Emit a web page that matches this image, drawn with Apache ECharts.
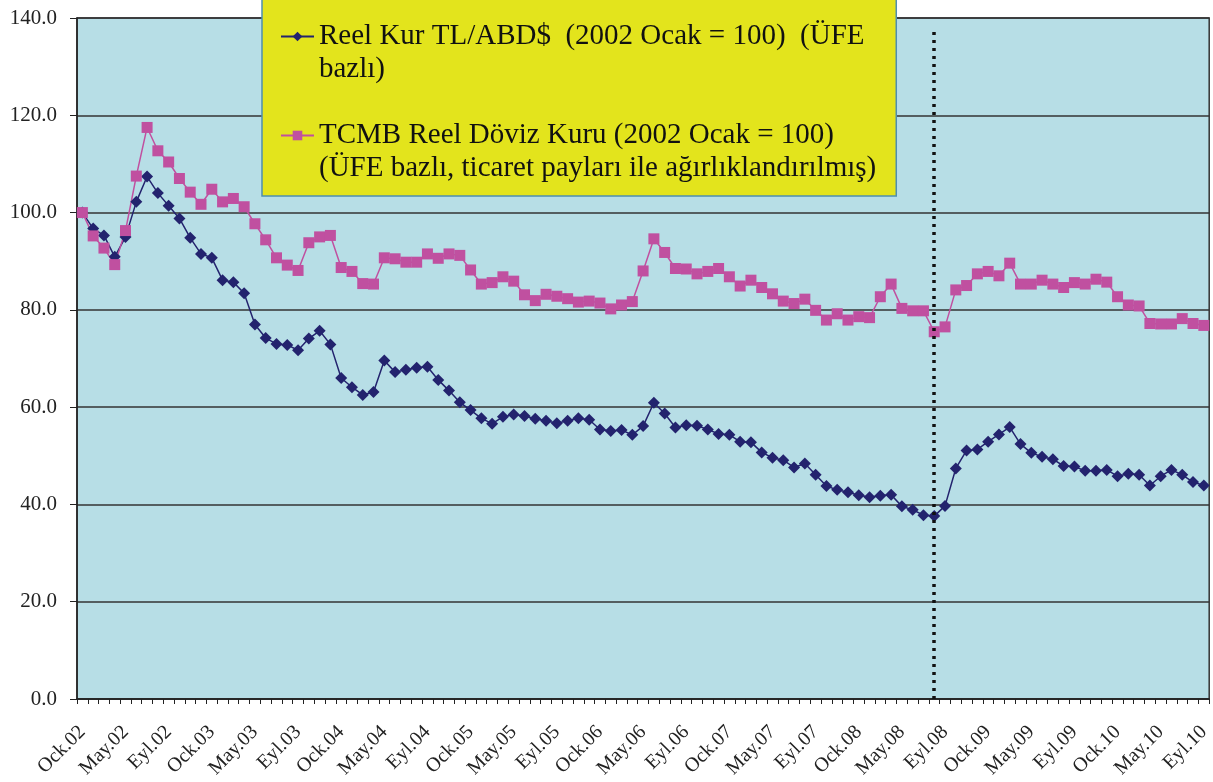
<!DOCTYPE html>
<html>
<head>
<meta charset="utf-8">
<script src="https://cdn.jsdelivr.net/npm/echarts@6/dist/echarts.min.js"></script>
<style>
  html, body { margin: 0; padding: 0; background: #fff; }
  #chart { width: 1213px; height: 782px; }
</style>
</head>
<body>
<div id="chart"></div>
<script>
// month labels, Ocak 2002 .. Eylül 2010
var monthNames = ['Ock', 'Şub', 'Mar', 'Nis', 'May', 'Haz', 'Tem', 'Ağu', 'Eyl', 'Eki', 'Kas', 'Ara'];
var years = ['02', '03', '04', '05', '06', '07', '08', '09', '10'];
var categories = [];
years.forEach(function (y) {
  monthNames.forEach(function (m) {
    if (categories.length < 105) categories.push(m + '.' + y);
  });
});

var yTicks = [0, 20, 40, 60, 80, 100, 120, 140];

var nameUsd = 'Reel Kur TL/ABD$  (2002 Ocak = 100)  (ÜFE bazlı)';
var nameTcmb = 'TCMB Reel Döviz Kuru (2002 Ocak = 100) (ÜFE bazlı, ticaret payları ile ağırlıklandırılmış)';

// Reel Kur TL/ABD$
var usdValues = [
  100.0, 96.7, 95.3, 90.9, 95.0, 102.2, 107.4, 104.0, 101.4, 98.8,
  94.8, 91.5, 90.7, 86.1, 85.7, 83.4, 77.0, 74.2, 73.0, 72.8,
  71.7, 74.1, 75.7, 72.9, 66.0, 64.1, 62.5, 63.1, 69.6, 67.2,
  67.7, 68.1, 68.3, 65.6, 63.4, 61.0, 59.4, 57.7, 56.6, 58.0,
  58.5, 58.2, 57.6, 57.2, 56.7, 57.2, 57.7, 57.4, 55.4, 55.1,
  55.3, 54.3, 56.1, 60.9, 58.7, 55.8, 56.3, 56.2, 55.4, 54.5,
  54.3, 52.9, 52.8, 50.7, 49.6, 49.1, 47.6, 48.4, 46.1, 43.8,
  43.0, 42.5, 41.9, 41.5, 41.8, 42.0, 39.6, 38.9, 37.8, 37.6,
  39.7, 47.4, 51.1, 51.3, 52.9, 54.4, 55.9, 52.4, 50.6, 49.8,
  49.3, 47.9, 47.8, 46.9, 46.9, 47.1, 45.8, 46.3, 46.1, 43.9,
  45.8, 47.1, 46.1, 44.6, 43.9
];

// TCMB Reel Döviz Kuru
var tcmbValues = [
  100.0, 95.2, 92.7, 89.3, 96.3, 107.5, 117.5, 112.7, 110.4, 107.0,
  104.2, 101.7, 104.8, 102.2, 102.9, 101.2, 97.7, 94.4, 90.7, 89.2,
  88.1, 93.8, 95.0, 95.3, 88.7, 87.9, 85.4, 85.3, 90.7, 90.5,
  89.8, 89.8, 91.5, 90.6, 91.5, 91.2, 88.2, 85.3, 85.6, 86.8,
  85.9, 83.1, 81.9, 83.2, 82.8, 82.3, 81.6, 81.8, 81.4, 80.2,
  81.0, 81.7, 88.0, 94.6, 91.8, 88.5, 88.4, 87.4, 87.9, 88.5,
  86.8, 84.9, 86.1, 84.6, 83.3, 81.8, 81.3, 82.2, 79.9, 77.9,
  79.2, 77.9, 78.6, 78.4, 82.7, 85.3, 80.3, 79.8, 79.8, 75.5,
  76.5, 84.1, 85.0, 87.4, 87.9, 87.0, 89.6, 85.3, 85.3, 86.1,
  85.3, 84.6, 85.6, 85.3, 86.3, 85.7, 82.7, 81.0, 80.8, 77.2,
  77.1, 77.1, 78.2, 77.2, 76.8
];

// dotted marker line (Ağustos 2008)
var markMonth = 'Ağu.08';

var serif = '"Liberation Serif", "Times New Roman", serif';

var legendText = {};
legendText[nameUsd] = '\nReel Kur TL/ABD$  (2002 Ocak = 100)  (ÜFE\nbazlı)';
legendText[nameTcmb] = '\nTCMB Reel Döviz Kuru (2002 Ocak = 100)\n(ÜFE bazlı, ticaret payları ile ağırlıklandırılmış)';

var chart = echarts.init(document.getElementById('chart'));

var option = {
  backgroundColor: '#ffffff',
  animation: false,
  grid: {
    left: 77,
    right: 3,
    top: 18,
    bottom: 83,
    show: true,
    backgroundColor: '#b7dee6',
    borderColor: '#333',
    borderWidth: 1.5
  },
  legend: {
    orient: 'vertical',
    left: 262,
    top: -20,
    padding: [7, 20, 11, 18],
    itemGap: 0,
    itemWidth: 33,
    itemHeight: 12,
    backgroundColor: '#e3e41c',
    borderColor: '#4f8fae',
    borderWidth: 1.5,
    formatter: function (name) { return legendText[name]; },
    textStyle: {
      fontFamily: serif,
      fontSize: 29,
      lineHeight: 33,
      color: '#111'
    }
  },
  xAxis: {
    type: 'category',
    data: categories,
    boundaryGap: true,
    axisLine: { lineStyle: { color: '#222', width: 1.5 } },
    axisTick: { show: true, interval: 0, length: 5, lineStyle: { color: '#222' } },
    axisLabel: {
      interval: 3,
      rotate: 45,
      margin: 30,
      fontFamily: serif,
      fontSize: 20,
      color: '#222'
    },
    splitLine: { show: false }
  },
  yAxis: {
    type: 'value',
    min: yTicks[0],
    max: yTicks[yTicks.length - 1],
    interval: 20,
    axisLine: { show: true, lineStyle: { color: '#222', width: 1.5 } },
    axisTick: { show: true, length: 7, lineStyle: { color: '#222' } },
    axisLabel: {
      fontFamily: serif,
      fontSize: 21,
      color: '#222',
      margin: 20,
      formatter: function (v) { return v.toFixed(1); }
    },
    splitLine: { lineStyle: { color: '#333', width: 1.5 } }
  },
  series: [
    {
      name: nameUsd,
      type: 'line',
      data: usdValues,
      showAllSymbol: true,
      symbol: 'diamond',
      symbolSize: 12,
      itemStyle: { color: '#23236e' },
      lineStyle: { color: '#23236e', width: 1.5 },
      markLine: {
        silent: true,
        symbol: 'none',
        label: { show: false },
        lineStyle: { color: '#111', width: 3.5, type: [3, 5] },
        data: [[{ xAxis: markMonth, yAxis: 0 }, { xAxis: markMonth, yAxis: 138 }]]
      }
    },
    {
      name: nameTcmb,
      type: 'line',
      data: tcmbValues,
      showAllSymbol: true,
      symbol: 'rect',
      symbolSize: 11,
      itemStyle: { color: '#c050a0' },
      lineStyle: { color: '#c050a0', width: 1.5 }
    }
  ]
};

chart.setOption(option);
</script>
</body>
</html>
